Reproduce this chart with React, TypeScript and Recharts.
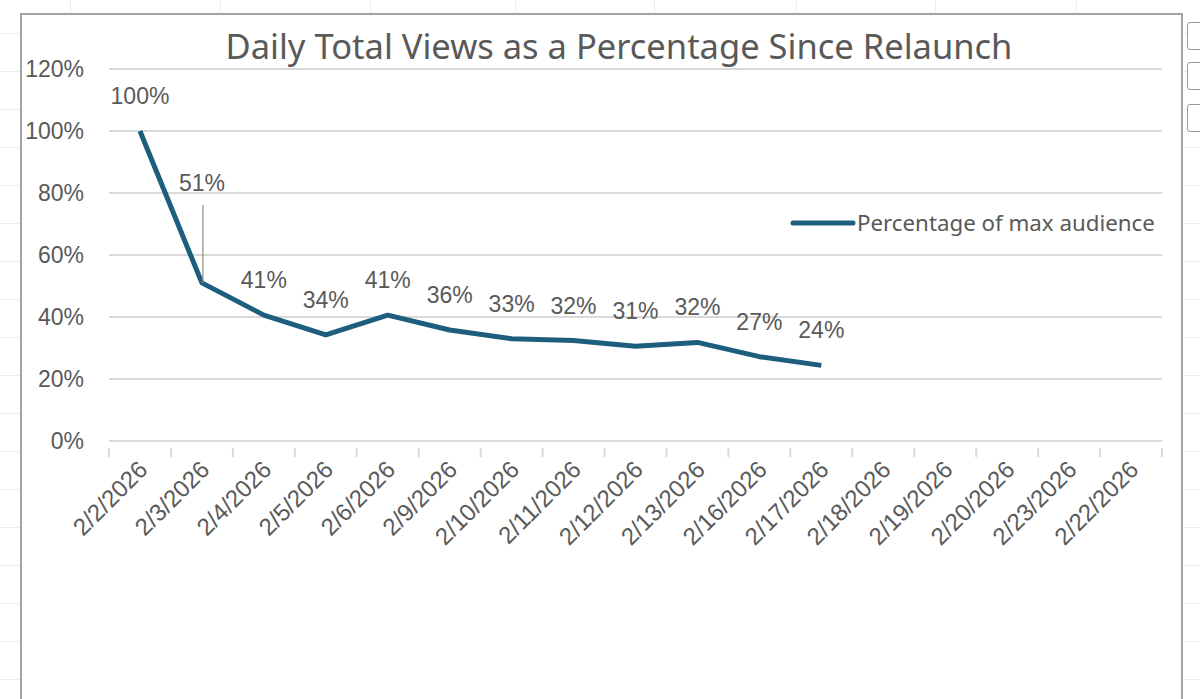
import React from "react";
import {
  LineChart,
  Line,
  XAxis,
  YAxis,
  CartesianGrid,
  Legend,
} from "recharts";

const DATES = [
  "2/2/2026",
  "2/3/2026",
  "2/4/2026",
  "2/5/2026",
  "2/6/2026",
  "2/9/2026",
  "2/10/2026",
  "2/11/2026",
  "2/12/2026",
  "2/13/2026",
  "2/16/2026",
  "2/17/2026",
  "2/18/2026",
  "2/19/2026",
  "2/20/2026",
  "2/23/2026",
  "2/22/2026",
];

// share of the first day's audience; later days not filled in yet
const PCT_OF_MAX = [1.0, 0.51, 0.406, 0.342, 0.406, 0.358, 0.33, 0.324, 0.306, 0.318, 0.272, 0.244];

const Y_TICKS = [0, 0.2, 0.4, 0.6, 0.8, 1.0, 1.2];

const TITLE = "Daily Total Views as a Percentage Since Relaunch";
const SERIES_NAME = "Percentage of max audience";

const W = 1200;
const H = 699;
const PLOT_LEFT = 109;
const PLOT_RIGHT = 1162;
const PLOT_TOP = 69;
const PLOT_BOTTOM = 441;
const BAND = (PLOT_RIGHT - PLOT_LEFT) / DATES.length;

const INK = "#595959";
const LINE = "#1d5e7e";
const GRID = "#d9d9d9";
const ARIAL = "'Liberation Sans', Arial, sans-serif";
const APTOS = "'Noto Sans', 'Open Sans', sans-serif";

const data = DATES.map((d, i) => ({
  date: d,
  pct: i < PCT_OF_MAX.length ? PCT_OF_MAX[i] : null,
}));

const pct = (v: number) => `${Math.round(v * 100)}%`;

function DateTick(props: any) {
  const { x, y, payload, index } = props;
  const left = x - BAND / 2;
  const ax = x + 9;
  const ay = y + 22;
  return (
    <g>
      <line x1={left} x2={left} y1={y - 1} y2={y + 8} stroke={GRID} strokeWidth={2} />
      {index === DATES.length - 1 && (
        <line x1={x + BAND / 2} x2={x + BAND / 2} y1={y - 1} y2={y + 8} stroke={GRID} strokeWidth={2} />
      )}
      <text
        x={ax}
        y={ay}
        textAnchor="end"
        fill={INK}
        fontSize={24}
        fontFamily={ARIAL}
        transform={`rotate(-45 ${ax} ${ay})`}
      >
        {payload.value}
      </text>
    </g>
  );
}

function PointLabel(props: any) {
  const { x, y, value, index } = props;
  if (value == null) return null;
  // second point's label was dragged up in the original, with a leader line
  if (index === 1) {
    return (
      <g>
        <line x1={x + 1} x2={x + 1} y1={y - 78} y2={y} stroke="#8c8c8c" strokeWidth={1.2} />
        <text x={x} y={y - 92} textAnchor="middle" fill={INK} fontSize={23} fontFamily={ARIAL}>
          {pct(value)}
        </text>
      </g>
    );
  }
  return (
    <text x={x} y={y - 27} textAnchor="middle" fill={INK} fontSize={23} fontFamily={ARIAL}>
      {pct(value)}
    </text>
  );
}

function LegendBox() {
  return (
    <div style={{ display: "flex", alignItems: "center", whiteSpace: "nowrap" }}>
      <svg width={66} height={10}>
        <line x1={3} x2={63} y1={5} y2={5} stroke={LINE} strokeWidth={5} strokeLinecap="round" />
      </svg>
      <span style={{ fontFamily: APTOS, fontSize: 22.3, color: INK, marginLeft: 1 }}>{SERIES_NAME}</span>
    </div>
  );
}

export default function App() {
  const rows = Array.from({ length: 18 }, (_, i) => 33 + i * 38);
  const cols = [70, 220, 370, 515, 654, 796, 935, 1076];
  return (
    <div
      style={{
        position: "absolute",
        left: 0,
        top: 0,
        width: W,
        height: H,
        background: "#fff",
        overflow: "hidden",
      }}
    >
      {/* sheet cells behind the chart */}
      {rows.map((r) => (
        <div key={`r${r}`} style={{ position: "absolute", left: 0, top: r, width: W, height: 1, background: "#ececec" }} />
      ))}
      {cols.map((c) => (
        <div key={`c${c}`} style={{ position: "absolute", left: c, top: 0, width: 1, height: H, background: "#ececec" }} />
      ))}
      {[22, 62, 104].map((t) => (
        <div
          key={`b${t}`}
          style={{
            position: "absolute",
            left: 1187,
            top: t,
            width: 24,
            height: 26,
            border: "1.5px solid #9a9a9a",
            borderRadius: 3,
            background: "#fff",
          }}
        />
      ))}

      <div
        style={{
          position: "absolute",
          left: 20,
          top: 13,
          width: 1159,
          height: 700,
          border: "2px solid #a3a3a3",
          background: "#fff",
        }}
      />

      <div
        style={{
          position: "absolute",
          left: 0,
          top: 22,
          width: 1238,
          textAlign: "center",
          fontFamily: APTOS,
          fontSize: 34.5,
          color: INK,
          whiteSpace: "nowrap",
        }}
      >
        {TITLE}
      </div>

      <div style={{ position: "absolute", left: 0, top: 0 }}>
        <LineChart
          width={W}
          height={H}
          data={data}
          margin={{ top: PLOT_TOP, right: W - PLOT_RIGHT, left: PLOT_LEFT - 90, bottom: H - PLOT_BOTTOM - 60 }}
        >
          <CartesianGrid vertical={false} stroke={GRID} strokeWidth={2} />
          <XAxis
            dataKey="date"
            scale="band"
            interval={0}
            height={60}
            axisLine={{ stroke: GRID, strokeWidth: 2 }}
            tickLine={false}
            tick={<DateTick />}
          />
          <YAxis
            width={90}
            domain={[0, 1.2]}
            ticks={Y_TICKS}
            tickFormatter={pct}
            axisLine={false}
            tickLine={false}
            tickSize={0}
            tickMargin={25}
            tick={{ fill: INK, fontSize: 23, fontFamily: ARIAL }}
          />
          <Legend
            layout="vertical"
            align="center"
            verticalAlign="middle"
            content={<LegendBox />}
            wrapperStyle={{ left: 790, top: 207, width: 400 }}
          />
          <Line
            type="linear"
            dataKey="pct"
            name={SERIES_NAME}
            stroke={LINE}
            strokeWidth={5}
            strokeLinejoin="round"
            dot={false}
            activeDot={false}
            isAnimationActive={false}
            label={<PointLabel />}
          />
        </LineChart>
      </div>
    </div>
  );
}
